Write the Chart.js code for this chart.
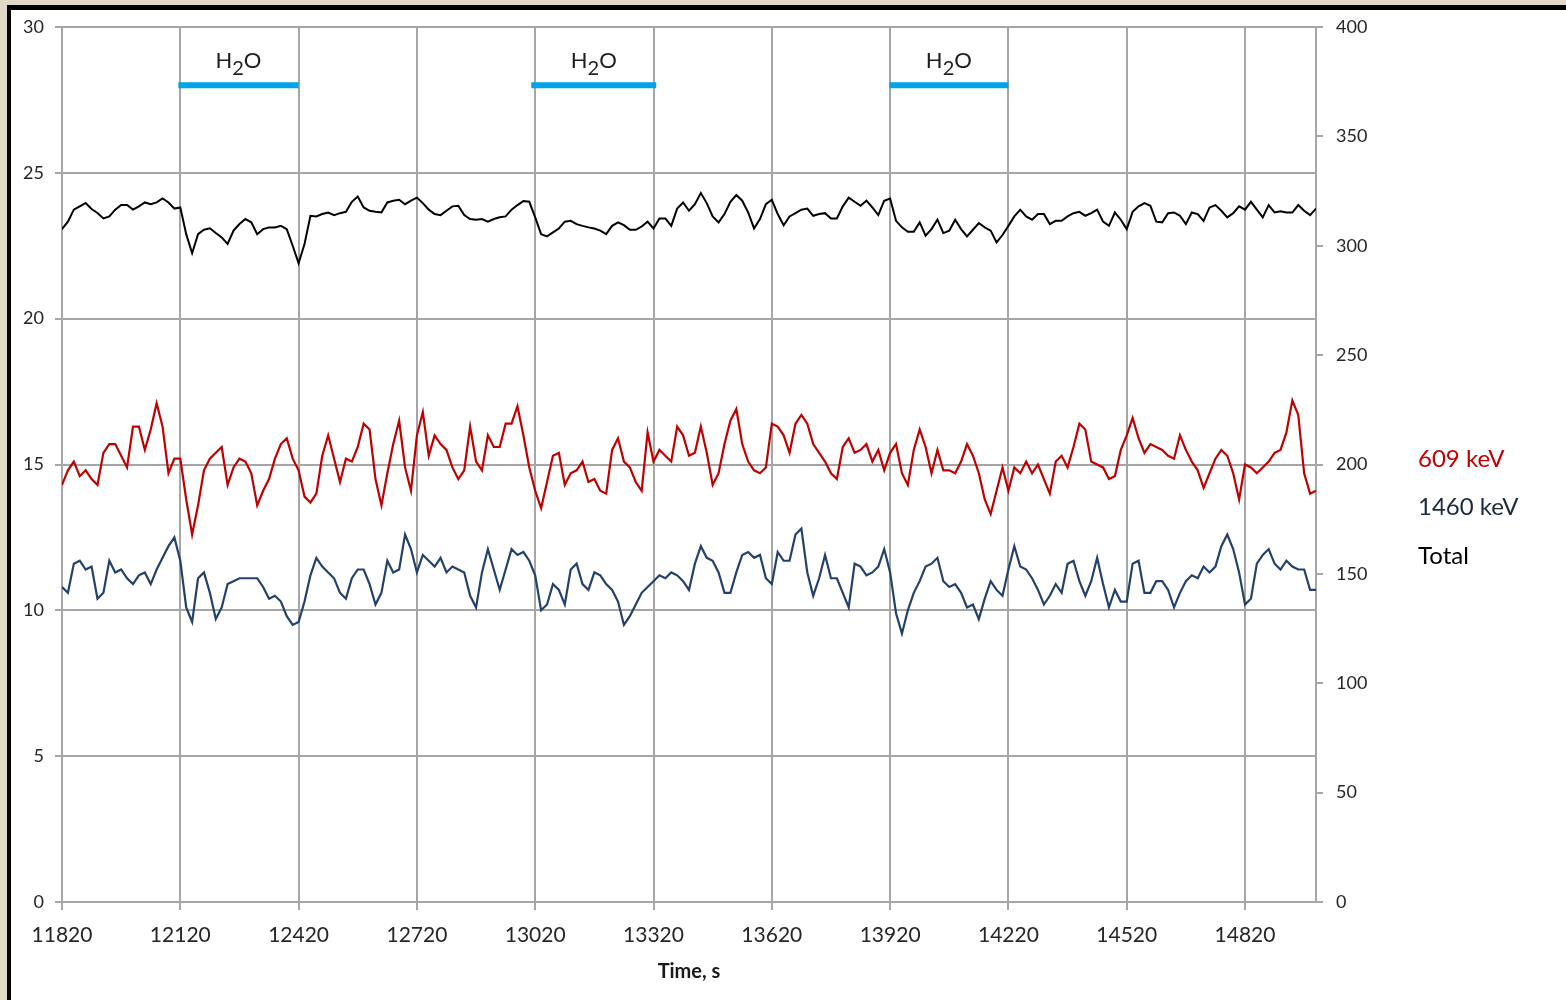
<!DOCTYPE html>
<html>
<head>
<meta charset="utf-8">
<title>609 keV, 1460 keV and Total count rates</title>
<script src="https://cdn.jsdelivr.net/npm/chart.js@4"></script>
<style>
  html, body { margin: 0; padding: 0; }
  body {
    width: 1566px; height: 1000px; overflow: hidden; position: relative;
    background: #e1d9c7;
  }
  #panel {
    position: absolute; left: 7px; top: 5px; width: 1555px; height: 990px;
    background: #ffffff; border-left: 4px solid #000; border-top: 5px solid #000;
  }
  #wrap { position: absolute; left: 0; top: 0; width: 1566px; height: 1000px; }
</style>
</head>
<body>
<div id="panel"></div>
<div id="wrap"><canvas id="chart" width="1566" height="1000"></canvas></div>
<script>
// Sampling of the measurement: one reading every 15 s from t = 11820 s
const timeStart = 11820;
const timeStep = 15;

// Time axis labels (s)
const timeTicks = [11820, 12120, 12420, 12720, 13020, 13320, 13620, 13920, 14220, 14520, 14820];

// 609 keV count rate (left axis)
const rate609 = [
  14.3, 14.8, 15.1, 14.6, 14.8, 14.5, 14.3, 15.4, 15.7, 15.7,
  15.3, 14.9, 16.3, 16.3, 15.5, 16.2, 17.1, 16.3, 14.7, 15.2,
  15.2, 13.8, 12.6, 13.6, 14.8, 15.2, 15.4, 15.6, 14.3, 14.9,
  15.2, 15.1, 14.7, 13.6, 14.1, 14.5, 15.2, 15.7, 15.9, 15.2,
  14.8, 13.9, 13.7, 14.0, 15.3, 16.0, 15.2, 14.4, 15.2, 15.1,
  15.6, 16.4, 16.2, 14.5, 13.6, 14.7, 15.7, 16.5, 14.9, 14.1,
  16.0, 16.8, 15.3, 16.0, 15.7, 15.5, 14.9, 14.5, 14.8, 16.3,
  15.1, 14.8, 16.0, 15.6, 15.6, 16.4, 16.4, 17.0, 16.0, 14.9,
  14.1, 13.5, 14.4, 15.3, 15.4, 14.3, 14.7, 14.8, 15.1, 14.4,
  14.5, 14.1, 14.0, 15.5, 15.9, 15.1, 14.9, 14.4, 14.1, 16.1,
  15.1, 15.5, 15.3, 15.1, 16.3, 16.0, 15.3, 15.4, 16.3, 15.4,
  14.3, 14.7, 15.7, 16.5, 16.9, 15.7, 15.1, 14.8, 14.7, 14.9,
  16.4, 16.3, 16.0, 15.4, 16.4, 16.7, 16.4, 15.7, 15.4, 15.1,
  14.7, 14.5, 15.6, 15.9, 15.4, 15.5, 15.7, 15.1, 15.5, 14.8,
  15.4, 15.7, 14.7, 14.3, 15.5, 16.2, 15.6, 14.7, 15.5, 14.8,
  14.8, 14.7, 15.1, 15.7, 15.3, 14.7, 13.8, 13.3, 14.1, 14.9,
  14.1, 14.9, 14.7, 15.1, 14.7, 15.0, 14.5, 14.0, 15.1, 15.3,
  14.9, 15.6, 16.4, 16.2, 15.1, 15.0, 14.9, 14.5, 14.6, 15.5,
  16.0, 16.6, 15.9, 15.4, 15.7, 15.6, 15.5, 15.3, 15.2, 16.0,
  15.5, 15.1, 14.8, 14.2, 14.7, 15.2, 15.5, 15.3, 14.7, 13.8,
  15.0, 14.9, 14.7, 14.9, 15.1, 15.4, 15.5, 16.1, 17.2, 16.7,
  14.7, 14.0, 14.1
];

// 1460 keV count rate (left axis)
const rate1460 = [
  10.8, 10.6, 11.6, 11.7, 11.4, 11.5, 10.4, 10.6, 11.7, 11.3,
  11.4, 11.1, 10.9, 11.2, 11.3, 10.9, 11.4, 11.8, 12.2, 12.5,
  11.7, 10.1, 9.6, 11.1, 11.3, 10.6, 9.7, 10.1, 10.9, 11.0,
  11.1, 11.1, 11.1, 11.1, 10.8, 10.4, 10.5, 10.3, 9.8, 9.5,
  9.6, 10.3, 11.2, 11.8, 11.5, 11.3, 11.1, 10.6, 10.4, 11.1,
  11.4, 11.4, 10.9, 10.2, 10.6, 11.7, 11.3, 11.4, 12.6, 12.1,
  11.3, 11.9, 11.7, 11.5, 11.8, 11.3, 11.5, 11.4, 11.3, 10.5,
  10.1, 11.3, 12.1, 11.4, 10.7, 11.4, 12.1, 11.9, 12.0, 11.7,
  11.2, 10.0, 10.2, 10.9, 10.7, 10.2, 11.4, 11.6, 10.9, 10.7,
  11.3, 11.2, 10.9, 10.7, 10.3, 9.5, 9.8, 10.2, 10.6, 10.8,
  11.0, 11.2, 11.1, 11.3, 11.2, 11.0, 10.7, 11.6, 12.2, 11.8,
  11.7, 11.3, 10.6, 10.6, 11.3, 11.9, 12.0, 11.8, 11.9, 11.1,
  10.9, 12.0, 11.7, 11.7, 12.6, 12.8, 11.3, 10.5, 11.1, 11.9,
  11.1, 11.1, 10.6, 10.1, 11.6, 11.5, 11.2, 11.3, 11.5, 12.1,
  11.3, 9.9, 9.2, 10.0, 10.6, 11.0, 11.5, 11.6, 11.8, 11.0,
  10.8, 10.9, 10.6, 10.1, 10.2, 9.7, 10.4, 11.0, 10.7, 10.5,
  11.4, 12.2, 11.5, 11.4, 11.1, 10.7, 10.2, 10.5, 10.9, 10.6,
  11.6, 11.7, 11.0, 10.5, 11.0, 11.8, 10.9, 10.1, 10.7, 10.3,
  10.3, 11.6, 11.7, 10.6, 10.6, 11.0, 11.0, 10.7, 10.1, 10.6,
  11.0, 11.2, 11.1, 11.5, 11.3, 11.5, 12.2, 12.6, 12.1, 11.3,
  10.2, 10.4, 11.6, 11.9, 12.1, 11.6, 11.4, 11.7, 11.5, 11.4,
  11.4, 10.7, 10.7
];

// Total count rate (right axis)
const rateTotal = [
  307.6, 311.0, 316.5, 318.0, 319.5, 316.8, 315.0, 312.5, 313.4, 316.5,
  318.6, 318.6, 316.5, 318.0, 319.8, 319.0, 319.8, 321.6, 319.8, 317.0,
  317.5, 305.3, 296.6, 305.3, 307.3, 308.0, 305.8, 303.8, 300.8, 306.9,
  309.9, 312.2, 310.7, 305.3, 307.6, 308.4, 308.4, 309.1, 307.6, 300.0,
  292.0, 300.8, 313.7, 313.4, 314.5, 315.2, 314.0, 314.9, 315.5, 320.1,
  322.5, 317.5, 316.0, 315.5, 315.2, 319.8, 320.6, 321.0, 319.0, 320.6,
  322.0, 319.5, 316.5, 314.5, 314.0, 316.0, 318.0, 318.3, 314.0, 312.2,
  311.9, 312.2, 311.0, 312.2, 313.0, 313.4, 316.5, 318.6, 320.4, 320.1,
  313.0, 305.3, 304.3, 306.1, 307.9, 311.0, 311.4, 309.9, 309.1, 308.4,
  307.9, 306.9, 305.3, 309.1, 310.7, 309.4, 307.3, 307.3, 308.8, 311.0,
  307.9, 312.5, 312.5, 309.1, 317.0, 319.8, 316.0, 319.0, 324.1, 319.5,
  313.4, 310.7, 314.5, 320.1, 323.2, 320.6, 315.2, 307.9, 312.2, 319.0,
  321.0, 314.5, 309.4, 313.4, 314.9, 316.5, 317.0, 313.7, 314.5, 314.9,
  312.5, 312.5, 318.0, 322.0, 320.1, 318.3, 320.6, 317.5, 314.0, 320.6,
  321.6, 311.4, 308.4, 306.4, 306.4, 310.7, 304.6, 307.6, 311.9, 305.8,
  306.9, 311.9, 307.6, 304.3, 307.3, 310.4, 308.4, 306.9, 301.5, 304.9,
  309.1, 313.4, 316.5, 313.4, 311.9, 314.5, 314.5, 309.9, 311.4, 311.4,
  313.4, 314.9, 315.5, 313.7, 314.9, 316.5, 311.0, 309.1, 315.2, 311.9,
  307.6, 315.5, 318.0, 319.5, 318.3, 311.0, 310.7, 314.9, 315.2, 313.7,
  309.9, 315.2, 314.5, 311.4, 317.5, 318.6, 316.0, 313.0, 314.9, 318.0,
  316.5, 320.1, 316.5, 313.0, 318.6, 315.2, 315.8, 315.2, 315.2, 318.6,
  316.0, 314.0, 317.0
];

// Periods with water around the detector (s) and the level the markers sit at
const h2oStart = [12115, 13010, 13918];
const h2oEnd   = [12420, 13327, 14220];
const h2oLevel = 28;

const seriesNames  = ['609 keV', '1460 keV', 'Total'];
const seriesColors = ['#c00000', '#24416a', '#000000'];
const legendColors = ['#c00000', '#1c2a3a', '#000000'];

const gridColor = '#a6a6a6';
const textColor = '#262626';
const fontFamily = 'Lato, "Open Sans", "Liberation Sans", sans-serif';

const toPoints = values => values.map((v, i) => ({ x: timeStart + i * timeStep, y: v }));

const datasets = [
  { label: seriesNames[1], data: toPoints(rate1460), yAxisID: 'y',
    borderColor: seriesColors[1], borderWidth: 2.2, pointRadius: 0, tension: 0 },
  { label: seriesNames[0], data: toPoints(rate609), yAxisID: 'y',
    borderColor: seriesColors[0], borderWidth: 2.2, pointRadius: 0, tension: 0 },
  { label: seriesNames[2], data: toPoints(rateTotal), yAxisID: 'y2',
    borderColor: seriesColors[2], borderWidth: 2, pointRadius: 0, tension: 0 }
];
h2oStart.forEach((s, k) => {
  datasets.push({
    label: 'H2O', data: [{ x: s, y: h2oLevel }, { x: h2oEnd[k], y: h2oLevel }],
    yAxisID: 'y', borderColor: '#00a2e8', borderWidth: 6, pointRadius: 0,
    borderCapStyle: 'butt'
  });
});

// "H₂O" labels above the water markers
const h2oLabels = {
  id: 'h2oLabels',
  afterDatasetsDraw(chart) {
    const { ctx, scales } = chart;
    ctx.save();
    ctx.fillStyle = '#1e1e1e';
    ctx.textBaseline = 'alphabetic';
    ctx.textAlign = 'left';
    h2oStart.forEach((s, k) => {
      const cx = (scales.x.getPixelForValue(s) + scales.x.getPixelForValue(h2oEnd[k])) / 2;
      const base = scales.y.getPixelForValue(h2oLevel) - 17;
      const big = '22px ' + fontFamily, small = '20px ' + fontFamily;
      ctx.font = big; const wH = ctx.measureText('H').width, wO = ctx.measureText('O').width;
      ctx.font = small; const w2 = ctx.measureText('2').width;
      let x = cx - (wH + w2 + wO) / 2;
      ctx.font = big; ctx.fillText('H', x, base); x += wH;
      ctx.font = small; ctx.fillText('2', x, base + 7); x += w2;
      ctx.font = big; ctx.fillText('O', x, base);
    });
    ctx.restore();
  }
};

// Coloured series names to the right of the plot
const sideLegend = {
  id: 'sideLegend',
  afterDraw(chart) {
    const { ctx, chartArea } = chart;
    ctx.save();
    ctx.font = '24px ' + fontFamily;
    ctx.textAlign = 'left';
    ctx.textBaseline = 'middle';
    seriesNames.forEach((name, k) => {
      ctx.fillStyle = legendColors[k];
      ctx.fillText(name, chartArea.right + 102, chartArea.top + 432 + k * 48.5);
    });
    ctx.restore();
  }
};

new Chart(document.getElementById('chart'), {
  type: 'line',
  data: { datasets },
  plugins: [h2oLabels, sideLegend],
  options: {
    responsive: false,
    animation: false,
    events: [],
    layout: { padding: { left: 0, top: 27, right: 150, bottom: 0 } },
    plugins: { legend: { display: false }, tooltip: { enabled: false } },
    scales: {
      x: {
        type: 'linear', min: 11820, max: 15000,
        afterBuildTicks: s => { s.ticks = timeTicks.map(v => ({ value: v })); },
        afterFit: s => { s.height = 98; },
        grid: { color: gridColor, lineWidth: 2, tickLength: 8 },
        border: { display: true, color: gridColor, width: 2 },
        ticks: {
          autoSkip: false, maxRotation: 0, padding: 13, color: textColor,
          font: { family: fontFamily, size: 21 },
          callback: v => String(v)
        },
        title: {
          display: true, text: 'Time, s', color: '#1a1a1a',
          font: { family: fontFamily, size: 20, weight: 'bold' },
          padding: { top: 0, bottom: 16 }
        }
      },
      y: {
        position: 'left', min: 0, max: 30,
        afterFit: s => { s.width = 62; },
        grid: { color: gridColor, lineWidth: 2, tickLength: 7 },
        border: { display: true, color: gridColor, width: 2 },
        ticks: { stepSize: 5, padding: 11, color: textColor, font: { family: fontFamily, size: 18 } }
      },
      y2: {
        position: 'right', min: 0, max: 400,
        afterFit: s => { s.width = 100; },
        grid: { drawOnChartArea: false, color: gridColor, lineWidth: 2, tickLength: 7 },
        border: { display: true, color: gridColor, width: 2 },
        ticks: { stepSize: 50, padding: 13, color: textColor, font: { family: fontFamily, size: 18 } }
      }
    }
  }
});
</script>
</body>
</html>
